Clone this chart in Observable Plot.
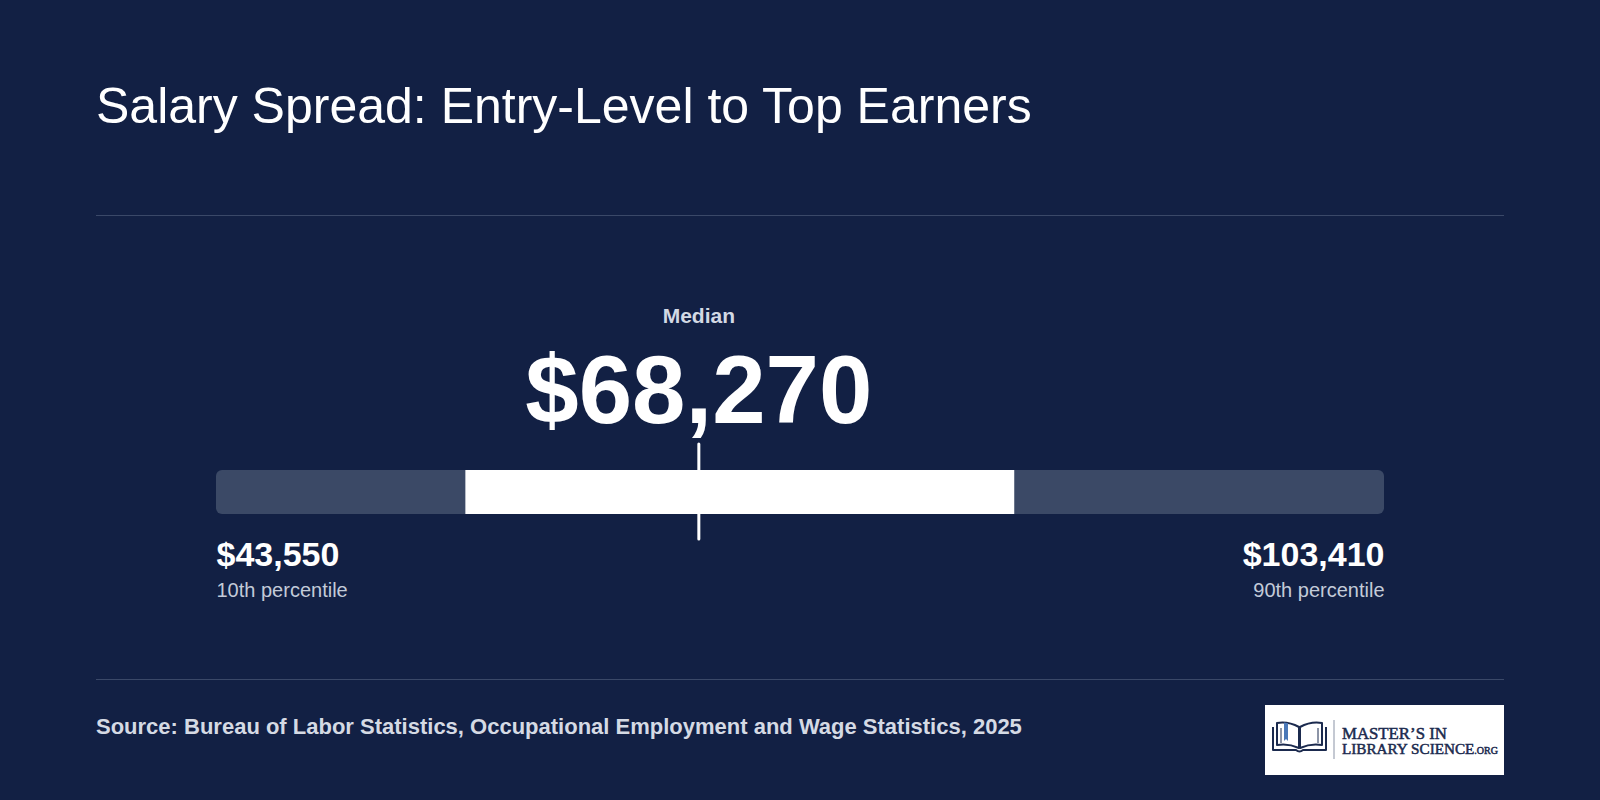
<!DOCTYPE html>
<html>
<head>
<meta charset="utf-8">
<script src="https://cdn.jsdelivr.net/npm/d3@7"></script>
<script src="https://cdn.jsdelivr.net/npm/@observablehq/plot@0.6"></script>
<style>
  html, body { margin: 0; padding: 0; background: #122044; }
  body { width: 1600px; height: 800px; overflow: hidden; position: relative;
         font-family: "Liberation Sans", Arial, Helvetica, sans-serif; }
  #title { position: absolute; left: 96px; top: 80.7px; font-size: 50px; line-height: 50px;
           color: #ffffff; white-space: nowrap; }
  .rule { position: absolute; left: 96px; width: 1408px; height: 1px; background: #3a4868; }
  #chart { position: absolute; left: 0; top: 216px; width: 1600px; height: 463px; }
  #source { position: absolute; left: 96px; top: 716.4px; font-size: 22px; line-height: 22px;
            font-weight: 700; color: #d5dae4; white-space: nowrap; }
  #logo { position: absolute; left: 1265px; top: 705px; }
</style>
</head>
<body>
<div id="title">Salary Spread: Entry-Level to Top Earners</div>
<div class="rule" style="top:215px"></div>
<div id="chart"></div>
<div class="rule" style="top:679px"></div>
<div id="source">Source: Bureau of Labor Statistics, Occupational Employment and Wage Statistics, 2025</div>
<svg id="logo" width="239" height="70" viewBox="0 0 239 70">
  <rect x="0" y="0" width="239" height="70" fill="#ffffff"/>
  <g fill="none" stroke="#1b2a4e" stroke-width="2" stroke-linejoin="round">
    <path d="M12 18 Q23 16 34 22 L34 43 Q23 38 12 40 Z"/>
    <path d="M57 18 Q46 16 35 22 L35 43 Q46 38 57 40 Z"/>
    <path d="M8 22 L8 45 L31 45 Q34.5 48 38 45 L61 45 L61 22"/>
    <path d="M16 23 L16 38 M53 23 L53 38" stroke-width="1"/>
  </g>
  <path d="M19 17.5 L23 18.2 L23 36 L21 34 L19 36 Z" fill="#4a78b8"/>
  <line x1="69" y1="15" x2="69" y2="54" stroke="#8a93a6" stroke-width="1"/>
  <g font-family="'Liberation Serif', 'DejaVu Serif', serif" fill="#1b2a4e" stroke="#1b2a4e" stroke-width="0.5">
    <text x="77" y="33.5" font-size="16.8">MASTER’S IN</text>
    <text x="77" y="49" font-size="15.2"><tspan>LIBRARY SCIENCE</tspan><tspan font-size="10">.ORG</tspan></text>
  </g>
</svg>
<script>
// ---- data ----
const percentileLabels = ["10th percentile", "25th percentile", "Median", "75th percentile", "90th percentile"];
const wages = [43550, 56330, 68270, 84460, 103410];

const p10 = wages[0], p25 = wages[1], median = wages[2], p75 = wages[3], p90 = wages[4];
const fmt = d3.format("$,");

const track = [{lo: p10, hi: p90}];
const middle = [{lo: p25, hi: p75}];
const lowEnd = [{value: p10, label: percentileLabels[0]}];
const highEnd = [{value: p90, label: percentileLabels[4]}];

const font = "'Liberation Sans', Arial, Helvetica, sans-serif";

function endLabels(data, anchor) {
  return [
    Plot.text(data, {x: "value", text: d => fmt(d.value), textAnchor: anchor, frameAnchor: "bottom",
                     lineAnchor: "bottom", dy: 51, fontSize: 34, fontWeight: 700, fill: "#ffffff"}),
    Plot.text(data, {x: "value", text: "label", textAnchor: anchor, frameAnchor: "bottom",
                     lineAnchor: "bottom", dy: 82, fontSize: 20, fill: "#c3cbd9"})
  ];
}

const chart = Plot.plot({
  width: 1600,
  height: 463,
  marginLeft: 216,
  marginRight: 216,
  marginTop: 254,
  marginBottom: 165,
  x: {domain: [p10, p90], axis: null},
  style: {background: "transparent", color: "#ffffff", fontFamily: font, overflow: "visible"},
  marks: [
    Plot.barX(track, {x1: "lo", x2: "hi", fill: "#3b4966", rx: 6}),
    Plot.barX(middle, {x1: "lo", x2: "hi", fill: "#ffffff"}),
    Plot.ruleX([median], {x: d => d, stroke: "#ffffff", strokeWidth: 3, strokeLinecap: "round",
                          insetTop: -26, insetBottom: -25}),
    Plot.text([median], {x: d => d, text: () => percentileLabels[2], frameAnchor: "top", lineAnchor: "bottom",
                         dy: -148, fontSize: 21, fontWeight: 700, fill: "#d3d9e4"}),
    Plot.text([median], {x: d => d, text: d => fmt(d), frameAnchor: "top", lineAnchor: "bottom",
                         dy: -48, fontSize: 96, fontWeight: 700, fill: "#ffffff"}),
    ...endLabels(lowEnd, "start"),
    ...endLabels(highEnd, "end")
  ]
});
document.getElementById("chart").appendChild(chart);
</script>
</body>
</html>
